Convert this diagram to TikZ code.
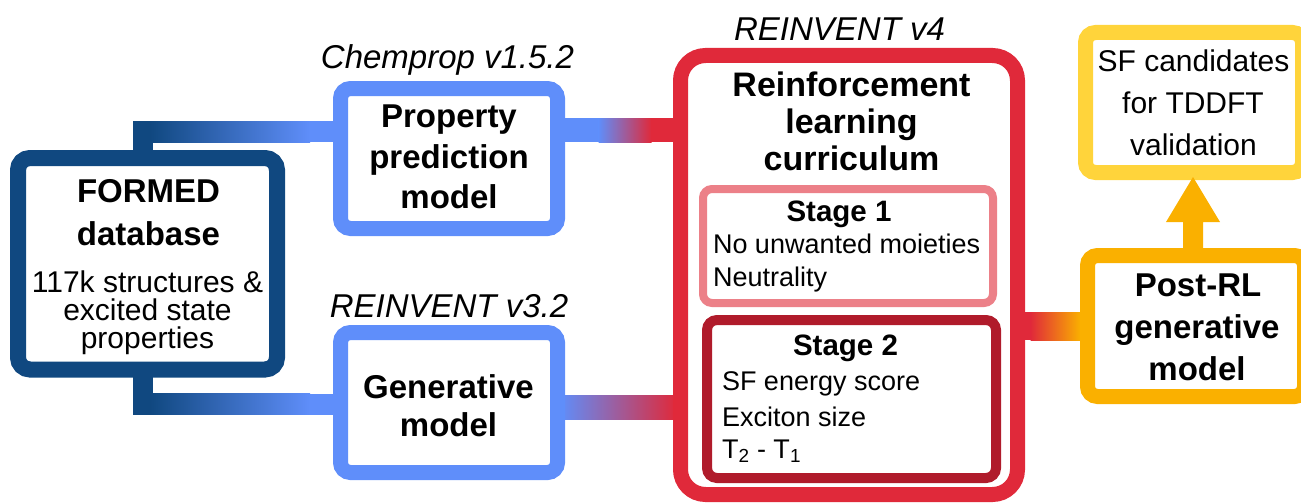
\documentclass[tikz,border=0pt]{standalone}
\usepackage{fontspec}
\setmainfont{Liberation Sans}
\usetikzlibrary{backgrounds,calc}
\definecolor{dkblue}{RGB}{16,72,128}
\definecolor{ltblue}{RGB}{95,142,250}
\definecolor{rlred}{RGB}{224,41,58}
\definecolor{stpink}{RGB}{236,128,136}
\definecolor{dkred}{RGB}{176,27,43}
\definecolor{orng}{RGB}{250,176,0}
\definecolor{yell}{RGB}{255,212,59}
\newcommand\fBold{\fontsize{33}{40}\selectfont\bfseries}
\newcommand\fBig{\fontsize{34}{40}\selectfont\bfseries}
\newcommand\fReg{\fontsize{30}{36}\selectfont}
\newcommand\fItal{\fontsize{33}{40}\selectfont\itshape}
\newcommand\fStage{\fontsize{27}{32}\selectfont}
\newcommand\fStageB{\fontsize{29.5}{35}\selectfont\bfseries}
\begin{document}
\begin{tikzpicture}[x=1pt,y=-1pt,
  box/.style={draw, fill=white, inner sep=0pt, outer sep=0pt, rounded corners=#1},
  box/.default=10pt,
  txt/.style={inner sep=0pt, outer sep=0pt, anchor=base},
  ltxt/.style={inner sep=0pt, outer sep=0pt, anchor=base west}]
\useasboundingbox (0,0) rectangle (1301,503);

% boxes
\node[box=12pt, draw=dkblue, line width=16pt, minimum width=259pt, minimum height=211.5pt] (formed) at (147.5,263.75) {};
\node[box, draw=ltblue, line width=15pt, minimum width=217pt, minimum height=140pt] (prop) at (449,158.5) {};
\node[box, draw=ltblue, line width=15pt, minimum width=217pt, minimum height=140pt] (gen) at (449,402.5) {};
\node[box=25pt, draw=rlred, line width=15pt, minimum width=337pt, minimum height=439pt] (rl) at (849,275) {};
\node[box=9pt, draw=stpink, line width=8pt, minimum width=290pt, minimum height=114pt] (st1) at (848,246) {};
\node[box, draw=dkred, line width=10pt, minimum width=289pt, minimum height=158pt] (st2) at (851.5,399) {};
\node[box, draw=orng, line width=15pt, minimum width=217pt, minimum height=141pt] (postrl) at (1196,326) {};
\node[box, draw=yell, line width=15pt, minimum width=217pt, minimum height=140pt] (sf) at (1194,102.5) {};

% connectors
\begin{scope}[on background layer]
  % FORMED -> property prediction
  \coordinate (ft) at ($(formed.north)+(-5,-26.5)$);
  \fill[dkblue] ($(ft)+(-10,-10.5)$) rectangle ($(formed.north)+(5,2)$);
  \fill[dkblue] ($(ft)+(-10,-10.5)$) rectangle ($(ft)+(8,10.5)$);
  \fill[left color=dkblue,right color=ltblue] ($(ft)+(7.5,-10.5)$) rectangle ($(ft)+(167.5,10.5)$);
  \fill[ltblue] ($(ft)+(167,-10.5)$) rectangle ($(prop.west |- ft)+(2,10.5)$);
  % FORMED -> generative
  \coordinate (fb) at ($(formed.south)+(-5,34.5)$);
  \fill[dkblue] ($(formed.south)+(-15,-2)$) rectangle ($(fb)+(10,10.5)$);
  \fill[dkblue] ($(fb)+(-10,-10.5)$) rectangle ($(fb)+(8,10.5)$);
  \fill[left color=dkblue,right color=ltblue] ($(fb)+(7.5,-10.5)$) rectangle ($(fb)+(167.5,10.5)$);
  \fill[ltblue] ($(fb)+(167,-10.5)$) rectangle ($(gen.west |- fb)+(2,10.5)$);
  % property -> RL
  \coordinate (pr) at ($(prop.east)+(0,-28.5)$);
  \fill[ltblue] ($(pr)+(-2,-12)$) rectangle ($(pr)+(42,12)$);
  \fill[left color=ltblue,right color=rlred] ($(pr)+(41,-12)$) rectangle ($(pr)+(94,12)$);
  \fill[rlred] ($(pr)+(93,-12)$) rectangle ($(rl.west |- pr)+(2,12)$);
  % generative -> RL
  \coordinate (gr) at ($(gen.east)+(0,4.5)$);
  \fill[ltblue] ($(gr)+(-2,-12)$) rectangle ($(gr)+(3,12)$);
  \fill[left color=ltblue,right color=rlred] ($(gr)+(2.5,-12)$) rectangle ($(rl.west |- gr)+(-4,12)$);
  \fill[rlred] ($(rl.west |- gr)+(-4.5,-12)$) rectangle ($(rl.west |- gr)+(2,12)$);
  % RL -> post-RL
  \coordinate (rp) at ($(rl.east)+(0,51)$);
  \fill[rlred] ($(rp)+(-2,-14)$) rectangle ($(rp)+(14,14)$);
  \fill[left color=rlred,right color=orng] ($(rp)+(13,-14)$) rectangle ($(rp)+(63,14)$);
  \fill[orng] ($(rp)+(62,-14)$) rectangle ($(postrl.west |- rp)+(2,14)$);
\end{scope}

% arrow post-RL -> SF candidates
\coordinate (atip) at ($(sf.south)+(-1,4.5)$);
\fill[orng] ($(postrl.north -| atip)+(-10,-6.5)$) -- ($(atip)+(-10,45)$) -- ($(atip)+(-27,45)$) -- (atip)
  -- ($(atip)+(27,45)$) -- ($(atip)+(10,45)$) -- ($(postrl.north -| atip)+(10,-6.5)$) -- cycle;

% texts
\node[txt] (t1) at (148.5,202) {\fBold FORMED};
\node[txt] (t2) at (148.5,245) {\fBold database};
\node[txt] (t3) at (147.5,292) {\fReg 117k structures \&};
\node[txt] (t4) at (147.5,320) {\fReg excited state};
\node[txt] (t5) at (147.5,348) {\fReg properties};

\node[txt] (l1) at (447.5,68) {\fItal Chemprop v1.5.2};
\node[txt] (p1) at (449,127.3) {\fBold Property};
\node[txt] (p2) at (449,168.3) {\fBold prediction};
\node[txt] (p3) at (449,208.3) {\fBold model};

\node[txt] (l2) at (449,317) {\fItal REINVENT v3.2};
\node[txt] (g1) at (448.5,398.3) {\fBold Generative};
\node[txt] (g2) at (448.5,436.7) {\fBold model};

\node[txt] (l3) at (839.5,41) {\fItal REINVENT v4};
\node[txt] (r1) at (851.5,96.7) {\fBig Reinforcement};
\node[txt] (r2) at (851.5,133) {\fBig learning};
\node[txt] (r3) at (851.5,170) {\fBig curriculum};

\node[txt] (s1) at (839,221.7) {\fStageB Stage 1};
\node[ltxt] (s1a) at (713,253.3) {\fStage No unwanted moieties};
\node[ltxt] (s1b) at (713,286.7) {\fStage Neutrality};

\node[txt] (s2) at (845.5,355) {\fStageB Stage 2};
\node[ltxt] (s2a) at (722,390.7) {\fStage SF energy score};
\node[ltxt] (s2b) at (722,426.7) {\fStage Exciton size};
\node[ltxt] (s2c) at (722,458.3) {\fStage T\textsubscript{2} - T\textsubscript{1}};

\node[txt] (q1) at (1198,296) {\fBold Post-RL};
\node[txt] (q2) at (1197,338) {\fBold generative};
\node[txt] (q3) at (1197,380) {\fBold model};

\node[txt] (c1) at (1193.5,72) {\fReg SF candidates};
\node[txt] (c2) at (1193,113) {\fReg for TDDFT};
\node[txt] (c3) at (1193.5,155) {\fReg validation};
\end{tikzpicture}
\end{document}
